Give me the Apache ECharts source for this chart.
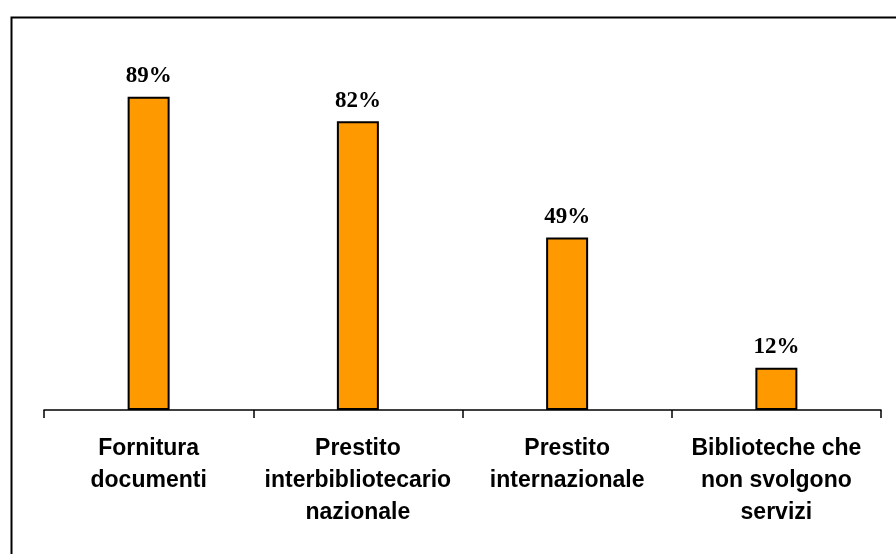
<!DOCTYPE html>
<html>
<head>
<meta charset="utf-8">
<script src="https://cdn.jsdelivr.net/npm/echarts@6/dist/echarts.min.js"></script>
<style>html,body{margin:0;padding:0;background:#fff}#c{width:896px;height:554px}</style>
</head>
<body>
<div id="c"></div>
<script>
var categories = ["Fornitura\ndocumenti", "Prestito\ninterbibliotecario\nnazionale", "Prestito\ninternazionale", "Biblioteche che\nnon svolgono\nservizi"];
var values = [89, 82, 49, 12];

var chart = echarts.init(document.getElementById('c'));
chart.setOption({
  backgroundColor: '#ffffff',
  animation: false,
  graphic: [{
    type: 'rect', left: 9, top: 15,
    shape: { x: 0, y: 0, width: 1000, height: 700 },
    style: { fill: 'none', stroke: '#000', lineWidth: 2 }
  }],
  grid: { left: 44, right: 15, top: 58, bottom: 144 },
  xAxis: {
    type: 'category',
    data: categories,
    axisLine: { lineStyle: { color: '#000', width: 1.5 } },
    axisTick: { show: true, length: 8, lineStyle: { color: '#000', width: 1.5 } },
    axisLabel: {
      interval: 0, margin: 23, color: '#000',
      fontFamily: 'Liberation Sans, Arial, sans-serif', fontWeight: 'bold',
      fontSize: 23, lineHeight: 32, align: 'center'
    }
  },
  yAxis: {
    type: 'value', min: 0, max: 100, show: false,
    splitLine: { show: false }
  },
  series: [{
    type: 'bar',
    data: values,
    barWidth: 42,
    itemStyle: { color: '#FF9900', borderColor: '#000', borderWidth: 2 },
    label: {
      show: true, position: 'top', distance: 9,
      formatter: function (p) { return p.value + '%'; },
      color: '#000', fontFamily: 'Liberation Serif, Times New Roman, serif',
      fontWeight: 'bold', fontSize: 23
    }
  }]
});
</script>
</body>
</html>
